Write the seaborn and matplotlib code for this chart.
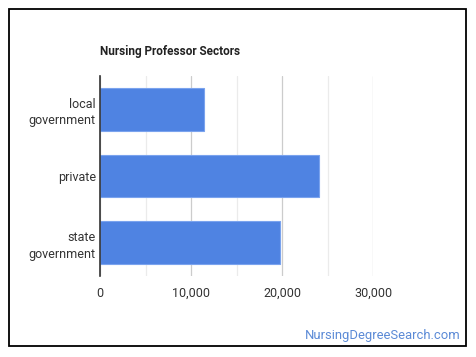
import matplotlib
matplotlib.use('Agg')
import matplotlib.pyplot as plt
from matplotlib.patches import Rectangle
from matplotlib.ticker import MultipleLocator, FuncFormatter
import pandas as pd
import seaborn as sns

# chart data
sectors = ['local\ngovernment', 'private', 'state\ngovernment']
employees = [11450, 24100, 19800]
x_ticks = [0, 10000, 20000, 30000]

sns.set_style('white')
plt.rcParams['font.family'] = ['Roboto', 'DejaVu Sans']

df = pd.DataFrame({'sector': sectors, 'employees': employees})

fig = plt.figure(figsize=(4.76, 3.57), dpi=100)
ax = fig.add_axes([100 / 476, 1 - 276 / 357, 273 / 476, 200 / 357])

sns.barplot(data=df, x='employees', y='sector', orient='h', color='#4f83e2',
            saturation=1, width=0.64, edgecolor='#7aa3ee', linewidth=0.8, ax=ax)

# gridlines: major every 10k, minor every 5k
ax.set_xlim(0, 30000)
ax.set_xticks(x_ticks)
ax.xaxis.set_minor_locator(MultipleLocator(5000))
ax.grid(axis='x', which='major', color='#cccccc', linewidth=0.9)
ax.grid(axis='x', which='minor', color='#ebebeb', linewidth=0.9)
ax.set_axisbelow(True)
ax.xaxis.set_major_formatter(FuncFormatter(lambda v, p: f'{int(v):,}'))

for side in ['top', 'right', 'bottom']:
    ax.spines[side].set_visible(False)
ax.spines['left'].set_color('#333333')
ax.spines['left'].set_linewidth(1.2)

ax.tick_params(axis='both', which='both', length=0, labelsize=9, colors='#333333')
ax.tick_params(axis='x', pad=8)
ax.tick_params(axis='y', pad=3)
for lbl in ax.get_yticklabels():
    lbl.set_horizontalalignment('right')
    lbl.set_multialignment('right')
    lbl.set_linespacing(1.35)
ax.set_xlabel('')
ax.set_ylabel('')

fig.text(100 / 476, 1 - 51 / 357, 'Nursing Professor Sectors', fontsize=8.5,
         fontweight='bold', color='#222222', va='center', ha='left')
fig.text(461 / 476, 1 - 335 / 357, 'NursingDegreeSearch.com', fontsize=9.4,
         color='#5b8ad6', va='center', ha='right')

# outer frame
fig.patches.append(Rectangle((8.5 / 476, 1 - 345.5 / 357), 457.5 / 476, 337 / 357,
                             transform=fig.transFigure, fill=False,
                             edgecolor='black', linewidth=1.3))

fig.savefig('out.png', dpi=100)
